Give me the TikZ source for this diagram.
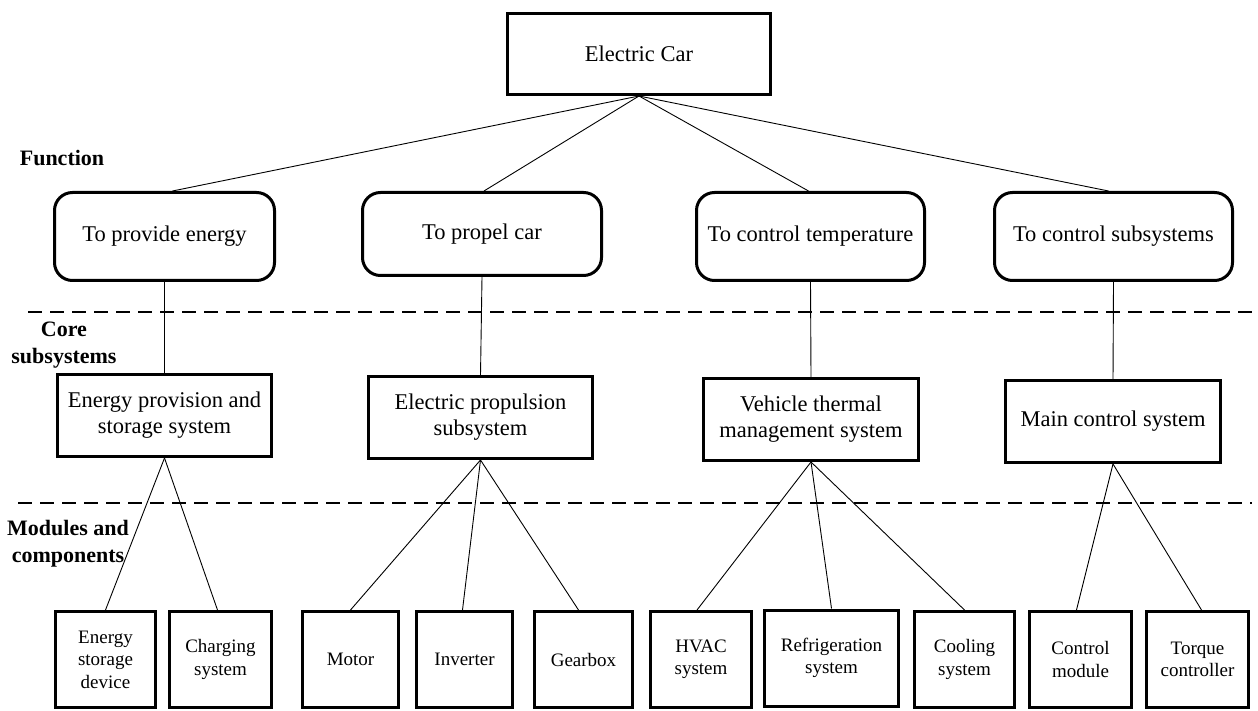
\documentclass[tikz,border=0pt]{standalone}
\usepackage{fontspec}
\setmainfont{Liberation Serif}
\begin{document}
\begin{tikzpicture}[x=1pt,y=-1pt,
  topbox/.style={draw, line width=3pt, minimum width=263pt, minimum height=81pt, font=\fontsize{22.5}{26}\selectfont, inner sep=0pt},
  funbox/.style={draw, line width=3pt, rounded corners=18pt, font=\fontsize{22.5}{26}\selectfont, inner sep=0pt, align=center},
  corebox/.style={draw, line width=3pt, minimum width=214pt, minimum height=82pt, font=\fontsize{22.5}{26}\selectfont, inner sep=0pt, align=center},
  modbox/.style={draw, line width=3pt, minimum height=96pt, font=\fontsize{19}{22.5}\selectfont, inner sep=0pt, align=center},
  link/.style={line width=0.9pt},
  divider/.style={line width=2pt, dash pattern=on 14pt off 8pt},
  lvl/.style={font=\fontsize{22}{27}\selectfont\bfseries, align=center, inner sep=0pt}
]
\useasboundingbox (0,0) rectangle (1258,711);

% top
\node[topbox] (car) at (639,54) {Electric Car};

% functions
\node[funbox, minimum width=220pt, minimum height=88pt] (f1) at (164.5,236.5) {To provide energy};
\node[funbox, minimum width=239pt, minimum height=83pt] (f2) at (482,234) {To propel car};
\node[funbox, minimum width=228pt, minimum height=88pt] (f3) at (810.5,236.5) {To control temperature};
\node[funbox, minimum width=238pt, minimum height=88pt] (f4) at (1113.5,236.5) {To control subsystems};

% core subsystems
\node[corebox] (c1) at (164.5,415.5) {Energy provision and\\storage system};
\node[corebox, minimum width=224pt] (c2) at (480.5,417.5) {Electric propulsion\\subsystem};
\node[corebox, minimum width=215pt] (c3) at (811,419.5) {Vehicle thermal\\management system};
\node[corebox, minimum width=215pt] (c4) at (1113,421.5) {Main control system};

% modules
\node[modbox, minimum width=100pt] (m1) at (105.5,659.5) {Energy\\storage\\device};
\node[modbox, minimum width=102pt] (m2) at (220.5,659.5) {Charging\\system};
\node[modbox, minimum width=96pt] (m3) at (350.5,659.5) {Motor};
\node[modbox, minimum width=96pt] (m4) at (464.5,659.5) {Inverter};
\node[modbox, minimum width=98pt] (m5) at (583.5,659.5) {Gearbox};
\node[modbox, minimum width=101pt] (m6) at (701,659.5) {HVAC\\system};
\node[modbox, minimum width=134pt] (m7) at (831.5,658) {Refrigeration\\system};
\node[modbox, minimum width=100pt] (m8) at (964.5,659.5) {Cooling\\system};
\node[modbox, minimum width=102pt] (m9) at (1080.5,659.5) {Control\\module};
\node[modbox, minimum width=102pt] (m10) at (1197.5,659.5) {Torque\\controller};

% level labels
\node[lvl] (l1) at (62,158) {Function};
\node[lvl] (l2) at (64,345) {Core\\subsystems};
\node[lvl] (l3) at (68,544) {Modules and\\components};

% dividers
\coordinate (d1a) at (28,312);
\coordinate (d1b) at (1258,312);
\coordinate (d2a) at (18,503);
\coordinate (d2b) at (1252,503);
\draw[divider] (d1a) -- (d1b);
\draw[divider] (d2a) -- (d2b);

% connectors
\draw[link] (car.south) -- ([xshift=8pt]f1.north);
\draw[link] (car.south) -- ([xshift=2pt]f2.north);
\draw[link] (car.south) -- ([xshift=-2pt]f3.north);
\draw[link] (car.south) -- ([xshift=-5pt]f4.north);
\draw[link] (f1.south) -- (c1.north);
\draw[link] (f2.south) -- (c2.north);
\draw[link] (f3.south) -- (c3.north);
\draw[link] (f4.south) -- (c4.north);
\draw[link] (c1.south) -- (m1.north);
\draw[link] (c1.south) -- ([xshift=-3pt]m2.north);
\draw[link] (c2.south) -- (m3.north);
\draw[link] (c2.south) -- ([xshift=-2pt]m4.north);
\draw[link] (c2.south) -- ([xshift=-5pt]m5.north);
\draw[link] (c3.south) -- ([xshift=-4pt]m6.north);
\draw[link] (c3.south) -- (m7.north);
\draw[link] (c3.south) -- (m8.north);
\draw[link] (c4.south) -- ([xshift=-4pt]m9.north);
\draw[link] (c4.south) -- ([xshift=4pt]m10.north);
\end{tikzpicture}
\end{document}
